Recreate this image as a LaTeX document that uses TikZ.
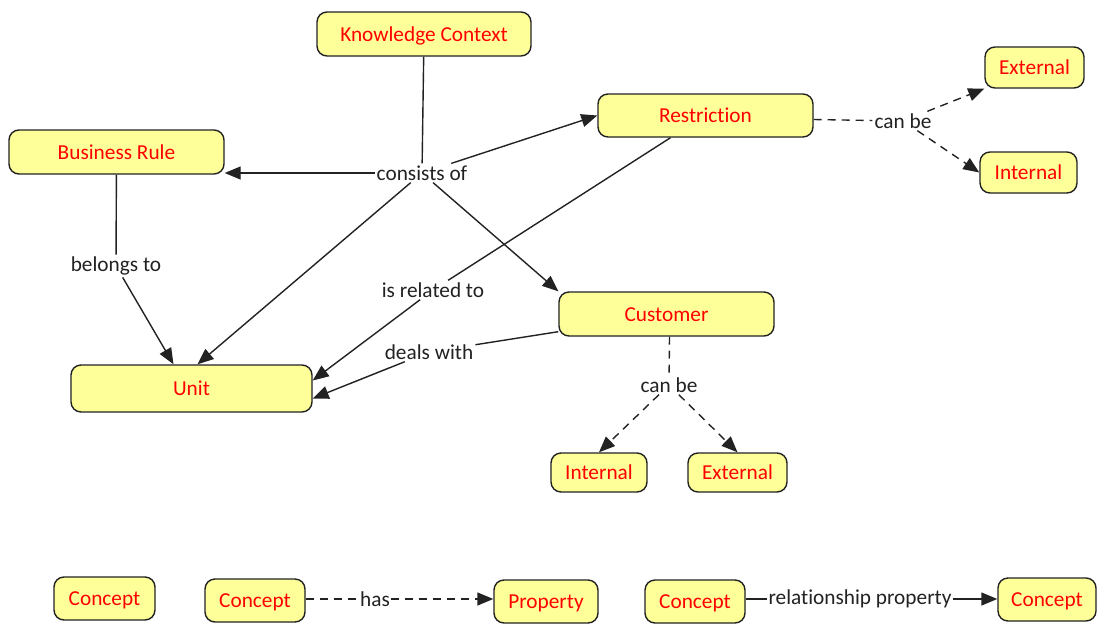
\documentclass[tikz,border=0pt]{standalone}
\usepackage{fontspec}
\setmainfont{Carlito}[Ligatures={NoCommon}]
\usetikzlibrary{arrows.meta}
\definecolor{conceptfill}{HTML}{FFFF99}
\definecolor{ink}{HTML}{222222}
\begin{document}
\begin{tikzpicture}[x=1pt,y=-1pt,
  font=\fontsize{21.3}{25}\selectfont,
  concept/.style={draw=ink, line width=1.4pt, fill=conceptfill,
    rounded corners=10pt, text=red, inner sep=0pt,
    text height=16pt, text depth=2pt},
  linkbox/.style={fill=white, text=ink, inner sep=2pt},
  link/.style={line width=1.4pt, draw=ink},
  arr/.style={link, -{Triangle[length=16pt,width=13pt]}},
  dashedlink/.style={link, dash pattern=on 8pt off 6pt},
  dashedarr/.style={arr, dash pattern=on 8pt off 6pt}]
\useasboundingbox (0,0) rectangle (1097,624);

% concepts
\node[concept, minimum width=214pt, minimum height=44pt] (kc) at (424,34) {Knowledge Context};
\node[concept, minimum width=215pt, minimum height=43pt] (re) at (705.5,115.5) {Restriction};
\node[concept, minimum width=99pt, minimum height=41pt] (ext1) at (1034.5,67.5) {External};
\node[concept, minimum width=97pt, minimum height=41pt] (int1) at (1028.5,172.5) {Internal};
\node[concept, minimum width=215pt, minimum height=44pt] (br) at (116.5,152) {Business Rule};
\node[concept, minimum width=215pt, minimum height=44pt] (cu) at (666.5,314) {Customer};
\node[concept, minimum width=241pt, minimum height=47pt] (un) at (191.5,388.5) {Unit};
\node[concept, minimum width=96pt, minimum height=39pt] (int2) at (599,472.5) {Internal};
\node[concept, minimum width=99pt, minimum height=39pt] (ext2) at (737.5,472.5) {External};

% legend row
\node[concept, minimum width=101pt, minimum height=43pt] (c1) at (104.5,598.5) {Concept};
\node[concept, minimum width=100pt, minimum height=43pt] (c2) at (255,600.5) {Concept};
\node[concept, minimum width=104pt, minimum height=43pt] (pr) at (546,601.5) {Property};
\node[concept, minimum width=100pt, minimum height=43pt] (c3) at (695,601.5) {Concept};
\node[concept, minimum width=98pt, minimum height=43pt] (c4) at (1047,599.5) {Concept};

% linking phrases
\node[linkbox] (co) at (422,173) {consists of};
\node[linkbox] (ir) at (433,290) {is related to};
\node[linkbox] (dw) at (429,352) {deals with};
\node[linkbox] (bl) at (116,266) {belongs to};
\node[linkbox] (cb1) at (903,121) {can be};
\node[linkbox] (cb2) at (669,385) {can be};
\node[linkbox, inner sep=1pt] (ha) at (375,599) {has};
\node[linkbox, inner sep=1pt] (rp) at (860,599) {relationship property};

% Knowledge Context consists of ...
\draw[link] (kc) -- (co);
\draw[arr] (co.west) -- (co.west -| br.east);
\draw[arr] (co) -- (re.west);
\draw[arr] (co) -- ([xshift=6pt]un.north);
\draw[arr] (co) -- (cu.north west);

% Business Rule belongs to Unit
\draw[link] (br) -- (bl);
\draw[arr] (bl) -- ([xshift=-18pt]un.north);

% Restriction is related to Unit
\draw[link] ([xshift=-35pt]re.south) -- (ir);
\draw[arr] (ir) -- ([yshift=8pt]un.east);

% Customer deals with Unit
\draw[link] ([yshift=5pt]cu.south west) -- (dw);
\draw[arr] (dw) -- ([yshift=-10pt]un.east);

% Restriction can be ...
\draw[dashedlink] ([yshift=-4pt]re.east) -- (cb1);
\draw[dashedarr] (cb1) -- (ext1.south west);
\draw[dashedarr] (cb1) -- (int1.west);

% Customer can be ...
\draw[dashedlink] ([xshift=3pt]cu.south) -- (cb2);
\draw[dashedarr] (cb2) -- (int2.north);
\draw[dashedarr] (cb2) -- (ext2.north);

% legend links
\draw[dashedlink] (c2.east |- ha) -- (ha);
\draw[dashedarr] (ha) -- (ha -| pr.west);
\draw[link] (c3.east |- rp) -- (rp);
\draw[arr] (rp) -- (rp -| c4.west);
\end{tikzpicture}
\end{document}
